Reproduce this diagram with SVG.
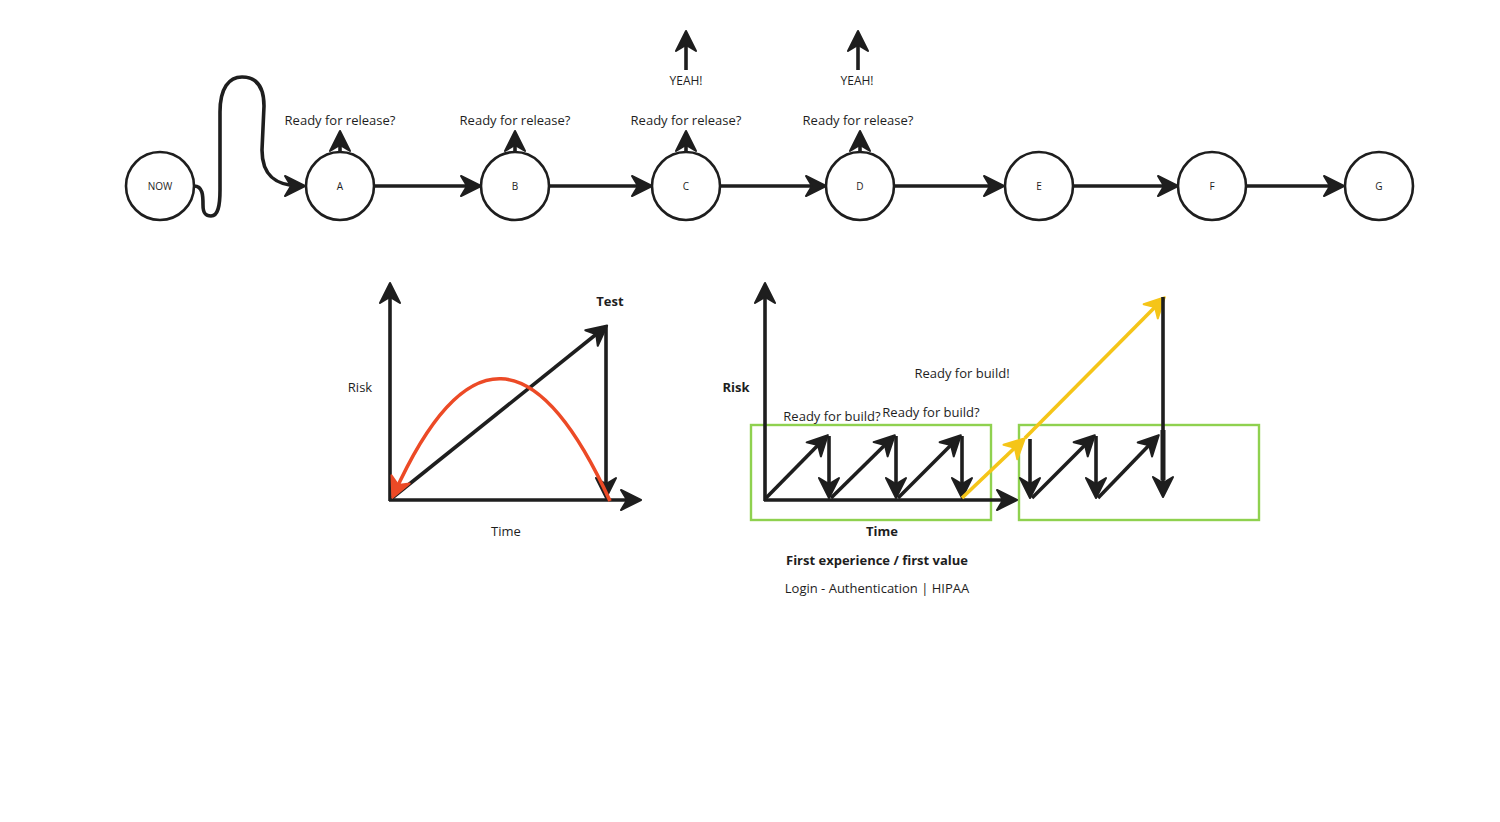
<svg xmlns="http://www.w3.org/2000/svg" width="1500" height="822" viewBox="0 0 1500 822">
  <style>
    .node circle { fill: #ffffff; stroke: #1e1e1e; stroke-width: 2.6; }
    .node text { font-family: "Open Sans", "Liberation Sans", sans-serif; font-size: 10px; fill: #1e1e1e; text-anchor: middle; dominant-baseline: central; }
    .lbl { font-family: "Open Sans", "Liberation Sans", sans-serif; font-size: 13px; fill: #1e1e1e; text-anchor: middle; }
    .bold { font-weight: 700; }
    .ln { fill: none; stroke: #1e1e1e; stroke-width: 3.6; stroke-linecap: butt; stroke-linejoin: round; }
    .ln-blk { marker-end: url(#head); }
    .red { fill: none; stroke: #ec4a26; stroke-width: 3.6; marker-end: url(#headRed); }
    .yel { fill: none; stroke: #f5c518; stroke-width: 3.6; marker-end: url(#headYel); }
    .frame { fill: none; stroke: #8fd14f; stroke-width: 2.4; }
  </style>
  <defs>
    <marker id="head" viewBox="-20 -13 26 26" markerWidth="26" markerHeight="26" refX="0" refY="0" orient="auto" markerUnits="userSpaceOnUse">
      <path d="M-16,-10 L4,0 L-16,10 L-10,0 Z" fill="#1e1e1e" stroke="#1e1e1e" stroke-width="2" stroke-linejoin="round"/>
    </marker>
    <marker id="headRed" viewBox="-20 -13 26 26" markerWidth="26" markerHeight="26" refX="0" refY="0" orient="auto" markerUnits="userSpaceOnUse">
      <path d="M-16,-10 L4,0 L-16,10 L-10,0 Z" fill="#ec4a26" stroke="#ec4a26" stroke-width="2" stroke-linejoin="round"/>
    </marker>
    <marker id="headYel" viewBox="-20 -13 26 26" markerWidth="26" markerHeight="26" refX="0" refY="0" orient="auto" markerUnits="userSpaceOnUse">
      <path d="M-16,-10 L4,0 L-16,10 L-10,0 Z" fill="#f5c518" stroke="#f5c518" stroke-width="2" stroke-linejoin="round"/>
    </marker>
  </defs>

  <rect width="1500" height="822" fill="#ffffff"/>

  <!-- timeline connectors -->
  <g id="connectors">
    <path class="ln ln-blk" d="M194,186 C203,186 203,196 203,205 C203,214 206,216 211,216 C218,216 220,206 220,190 L220,112 C220,88 229,77 242,77 C256,77 264,86 264,106 L262,150 C262,176 276,186 301,186"/>
    <path class="ln ln-blk" d="M375,186 H477"/>
    <path class="ln ln-blk" d="M550,186 H648"/>
    <path class="ln ln-blk" d="M721,186 H822"/>
    <path class="ln ln-blk" d="M895,186 H1000"/>
    <path class="ln ln-blk" d="M1074,186 H1174"/>
    <path class="ln ln-blk" d="M1247,186 H1340"/>
    <!-- release checks -->
    <path class="ln ln-blk" d="M340,152 V135"/>
    <path class="ln ln-blk" d="M515,152 V135"/>
    <path class="ln ln-blk" d="M686,152 V135"/>
    <path class="ln ln-blk" d="M860,152 V135"/>
    <!-- releases that shipped -->
    <path class="ln ln-blk" d="M686,70 V35"/>
    <path class="ln ln-blk" d="M858,70 V35"/>
  </g>

  <g id="node-now" class="node"><circle cx="160" cy="186" r="34"/><text x="160" y="186">NOW</text></g>
  <g id="node-a" class="node"><circle cx="340" cy="186" r="34"/><text x="340" y="186">A</text></g>
  <g id="node-b" class="node"><circle cx="515" cy="186" r="34"/><text x="515" y="186">B</text></g>
  <g id="node-c" class="node"><circle cx="686" cy="186" r="34"/><text x="686" y="186">C</text></g>
  <g id="node-d" class="node"><circle cx="860" cy="186" r="34"/><text x="860" y="186">D</text></g>
  <g id="node-e" class="node"><circle cx="1039" cy="186" r="34"/><text x="1039" y="186">E</text></g>
  <g id="node-f" class="node"><circle cx="1212" cy="186" r="34"/><text x="1212" y="186">F</text></g>
  <g id="node-g" class="node"><circle cx="1379" cy="186" r="34"/><text x="1379" y="186">G</text></g>

  <g id="timeline-labels">
    <text class="lbl" x="340" y="125">Ready for release?</text>
    <text class="lbl" x="515" y="125">Ready for release?</text>
    <text class="lbl" x="686" y="125">Ready for release?</text>
    <text class="lbl" x="858" y="125">Ready for release?</text>
    <text class="lbl" x="686" y="85" style="font-size:12px">YEAH!</text>
    <text class="lbl" x="857" y="85" style="font-size:12px">YEAH!</text>
  </g>

  <!-- big-bang risk chart -->
  <g id="chart-bigbang">
    <path class="ln ln-blk" d="M390,501 V287"/>
    <path class="ln ln-blk" d="M389,500 H637"/>
    <path class="ln ln-blk" d="M392,498 L604,328"/>
    <path class="ln ln-blk" d="M606,326 V494"/>
    <path class="red" d="M610,501 Q500,260 394,494"/>
    <text class="lbl" x="360" y="392">Risk</text>
    <text class="lbl bold" x="610" y="306">Test</text>
    <text class="lbl" x="506" y="536">Time</text>
  </g>

  <!-- incremental risk chart -->
  <g id="chart-incremental">
    <rect class="frame" x="751" y="425" width="240" height="95"/>
    <rect class="frame" x="1019" y="425" width="240" height="95"/>
    <path class="ln ln-blk" d="M765,501 V287"/>
    <path class="ln ln-blk" d="M764,500 H1013"/>
    <path class="ln ln-blk" d="M766,498 L825,438"/>
    <path class="ln ln-blk" d="M829,436 V494"/>
    <path class="ln ln-blk" d="M831,498 L892,438"/>
    <path class="ln ln-blk" d="M896,436 V494"/>
    <path class="ln ln-blk" d="M898,498 L958,438"/>
    <path class="ln ln-blk" d="M962,436 V494"/>
    <path class="yel" d="M962,498 L1022,441"/>
    <path class="yel" d="M1025,438 L1162,300"/>
    <path class="ln ln-blk" d="M1030,439 V494"/>
    <path class="ln ln-blk" d="M1032,498 L1092,438"/>
    <path class="ln ln-blk" d="M1096,436 V494"/>
    <path class="ln ln-blk" d="M1098,498 L1156,438"/>
    <path class="ln ln-blk" d="M1163,297 V493"/>
    <path class="ln" d="M1163,430 V480" style="stroke-width:5"/>
    <text class="lbl bold" x="736" y="392">Risk</text>
    <text class="lbl" x="832" y="421">Ready for build?</text>
    <text class="lbl" x="931" y="417">Ready for build?</text>
    <text class="lbl" x="962" y="378">Ready for build!</text>
    <text class="lbl bold" x="882" y="536">Time</text>
    <text class="lbl bold" x="877" y="565">First experience / first value</text>
    <text class="lbl" x="877" y="593">Login - Authentication | HIPAA</text>
  </g>
</svg>
